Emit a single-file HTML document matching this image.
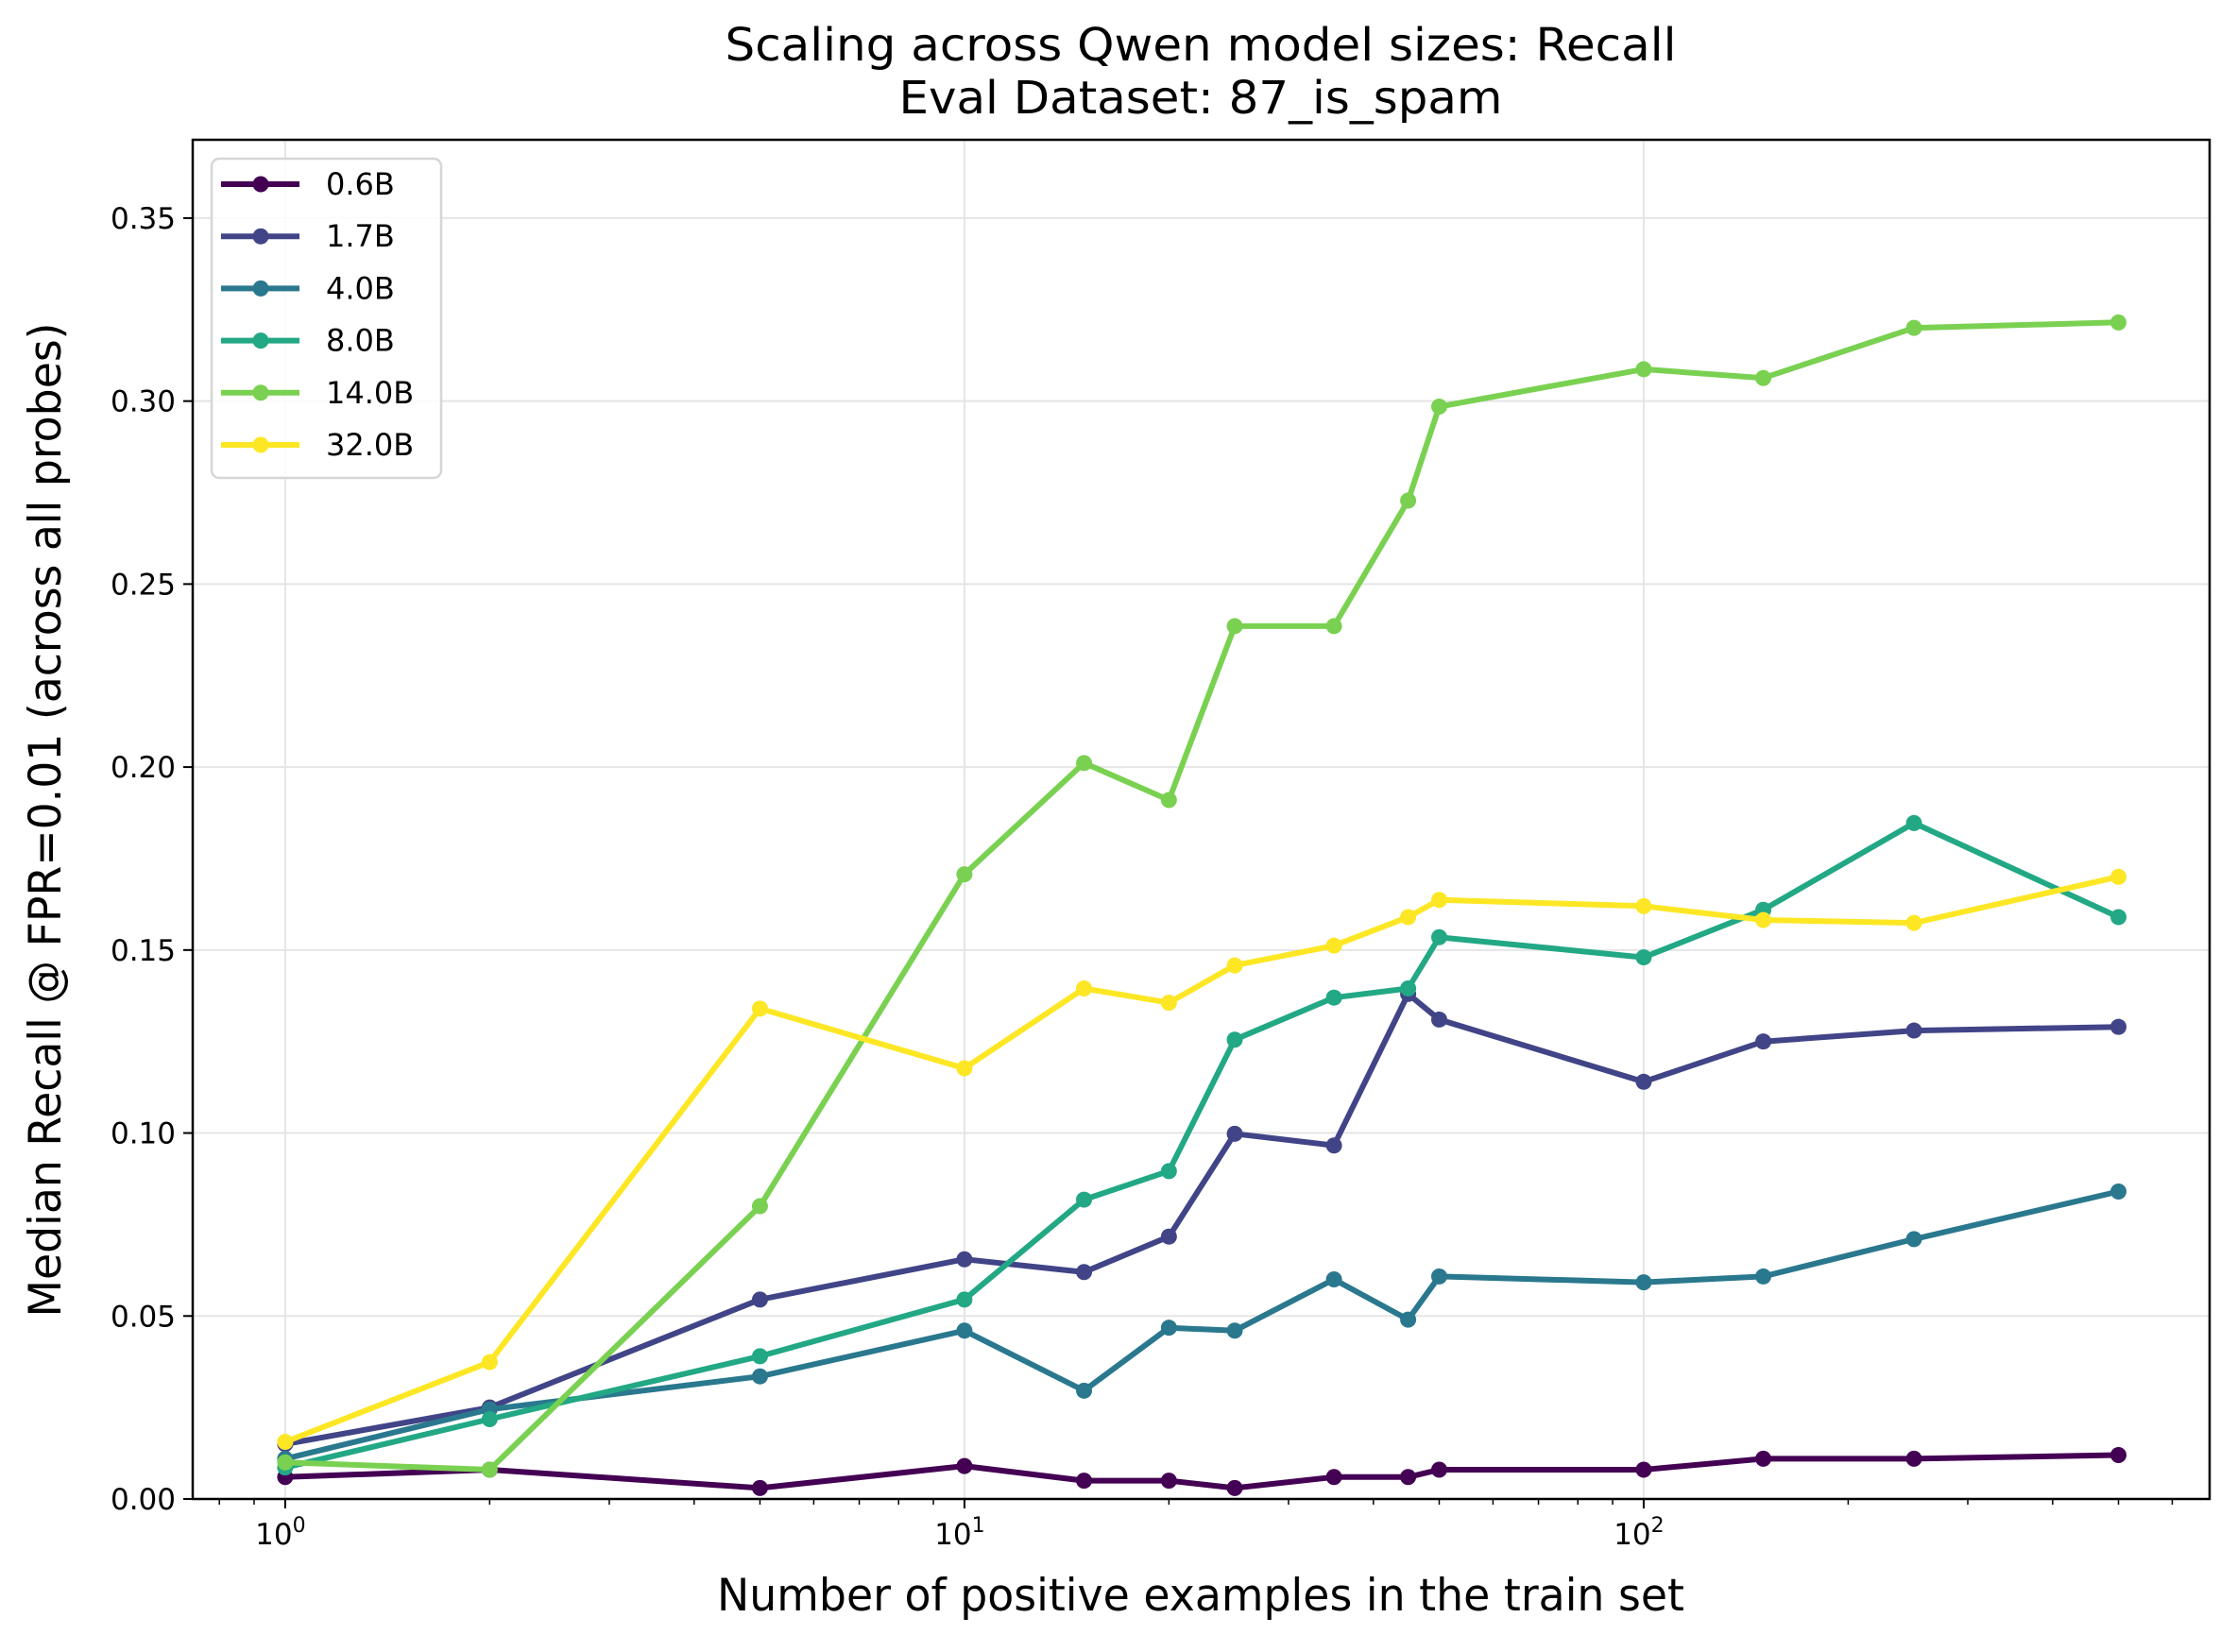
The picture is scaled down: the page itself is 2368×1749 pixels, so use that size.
<!DOCTYPE html>
<html><head><meta charset="utf-8"><style>
html,body{margin:0;padding:0;background:#fff}
svg{display:block;font-family:"DejaVu Sans","Liberation Sans",sans-serif}
</style></head><body>
<svg id="chart" width="2368" height="1749" viewBox="0 0 2368 1749">
<rect x="0" y="0" width="2368" height="1749" fill="#fff"/>
<text x="1271" y="64" font-size="48" text-anchor="middle" textLength="1007" lengthAdjust="spacingAndGlyphs">Scaling across Qwen model sizes: Recall</text>
<text x="1271" y="120" font-size="48" text-anchor="middle" textLength="639" lengthAdjust="spacingAndGlyphs">Eval Dataset: 87_is_spam</text>
<g id="grid"></g>
<g id="series"></g>
<g id="axes"></g>
<text x="1271" y="1705" font-size="47" text-anchor="middle" textLength="1024" lengthAdjust="spacingAndGlyphs">Number of positive examples in the train set</text>
<text x="0" y="0" font-size="47" text-anchor="middle" textLength="1053" lengthAdjust="spacingAndGlyphs" transform="translate(64,868) rotate(-90)">Median Recall @ FPR=0.01 (across all probes)</text>
<g id="legend"></g>
</svg>
<script>
const xValues = [1,2,5,10,15,20,25,35,45,50,100,150,250,500];
const seriesNames = ["0.6B","1.7B","4.0B","8.0B","14.0B","32.0B"];
const seriesColors = ["#440154","#414487","#2a788e","#22a884","#7ad151","#fde725"];
const s06 = [0.006,0.008,0.003,0.009,0.005,0.005,0.003,0.006,0.006,0.008,0.008,0.011,0.011,0.012];
const s17 = [0.015,0.025,0.0545,0.0655,0.062,0.0717,0.0998,0.0966,0.138,0.131,0.114,0.125,0.128,0.129];
const s40 = [0.011,0.0245,0.0335,0.046,0.0296,0.0468,0.046,0.060,0.049,0.0608,0.0592,0.0608,0.071,0.084];
const s80 = [0.0086,0.0218,0.039,0.0545,0.0818,0.0896,0.1255,0.137,0.1395,0.1535,0.148,0.161,0.1847,0.159];
const s140 = [0.010,0.008,0.080,0.1707,0.2011,0.191,0.2385,0.2385,0.2728,0.2985,0.3087,0.3063,0.320,0.3215];
const s320 = [0.0156,0.0374,0.134,0.1177,0.1395,0.1356,0.1458,0.1512,0.159,0.1637,0.162,0.1582,0.1574,0.170];
const yTicks = [0,0.05,0.10,0.15,0.20,0.25,0.30,0.35];
const yTickLabels = ["0.00","0.05","0.10","0.15","0.20","0.25","0.30","0.35"];
const xMajorTicks = [1,10,100];
const xMajorExp = ["0","1","2"];

const L=204,R=2339,T=148,B=1587;
const xMinLog=Math.log10(0.7309), xMaxLog=Math.log10(681);
const yMin=0, yMax=0.3714;
function xs(v){return L+(Math.log10(v)-xMinLog)/(xMaxLog-xMinLog)*(R-L);}
function ys(v){return B-(v-yMin)/(yMax-yMin)*(B-T);}
const NS="http://www.w3.org/2000/svg";
function mk(tag,attrs,parent){const e=document.createElementNS(NS,tag);for(const k in attrs)e.setAttribute(k,attrs[k]);parent.appendChild(e);return e;}

const grid=document.getElementById('grid');
yTicks.forEach(v=>{const l=mk('line',{x1:L,x2:R,y1:ys(v),y2:ys(v),stroke:'#e5e5e5','stroke-width':2},grid);

});
xMajorTicks.forEach(v=>{const l=mk('line',{x1:xs(v),x2:xs(v),y1:T,y2:B,stroke:'#e5e5e5','stroke-width':2},grid);

});

const sg=document.getElementById('series');
const allSeries=[s06,s17,s40,s80,s140,s320];
allSeries.forEach((data,i)=>{
  const g=mk('g',{},sg);
  
  
  const pts=data.map((v,j)=>xs(xValues[j]).toFixed(1)+','+ys(v).toFixed(1)).join(' ');
  const pl=mk('polyline',{points:pts,fill:'none',stroke:seriesColors[i],'stroke-width':6,'stroke-linejoin':'round','stroke-linecap':'round'},g);
  
  
  data.forEach((v,j)=>{const c=mk('circle',{cx:xs(xValues[j]),cy:ys(v),r:8.5,fill:seriesColors[i]},g);
  
  });
});

const ax=document.getElementById('axes');
const frame=mk('rect',{x:L,y:T,width:R-L,height:B-T,fill:'none',stroke:'#000','stroke-width':2.5},ax);


yTicks.forEach((v,i)=>{
  const t=mk('line',{x1:L-10,x2:L,y1:ys(v),y2:ys(v),stroke:'#000','stroke-width':2},ax);
  
  
  const tx=mk('text',{x:L-18,y:ys(v)+11,'font-size':31,'text-anchor':'end'},ax);
  tx.textContent=yTickLabels[i];
  
  
});
xMajorTicks.forEach((v,i)=>{
  const t=mk('line',{x1:xs(v),x2:xs(v),y1:B,y2:B+10,stroke:'#000','stroke-width':2},ax);
  
  
  const tx=mk('text',{x:xs(v)-5,y:B+48,'font-size':31,'text-anchor':'middle'},ax);
  tx.textContent='10';
  const sp=mk('tspan',{dy:-13,'font-size':22},tx);
  sp.textContent=xMajorExp[i];
  
  
});
[0.8,0.9,2,3,4,5,6,7,8,9,20,30,40,50,60,70,80,90,200,300,400,500,600].forEach(v=>{
  const t=mk('line',{x1:xs(v),x2:xs(v),y1:B,y2:B+6,stroke:'#000','stroke-width':1.5},ax);
  
  
});

const lg=document.getElementById('legend');
const box=mk('rect',{x:224,y:168,width:243,height:338,rx:8,fill:'#fff','fill-opacity':0.85,stroke:'#d6d6d6','stroke-width':2.5},lg);


seriesNames.forEach((n,i)=>{
  const y=195+i*55.2;
  const g=mk('g',{},lg);
  
  
  mk('line',{x1:234,x2:317,y1:y,y2:y,stroke:seriesColors[i],'stroke-width':6},g);
  mk('circle',{cx:276,cy:y,r:8.5,fill:seriesColors[i]},g);
  const t=mk('text',{x:345,y:y+11,'font-size':32},g);
  t.textContent=n;
});
</script>
</body></html>
